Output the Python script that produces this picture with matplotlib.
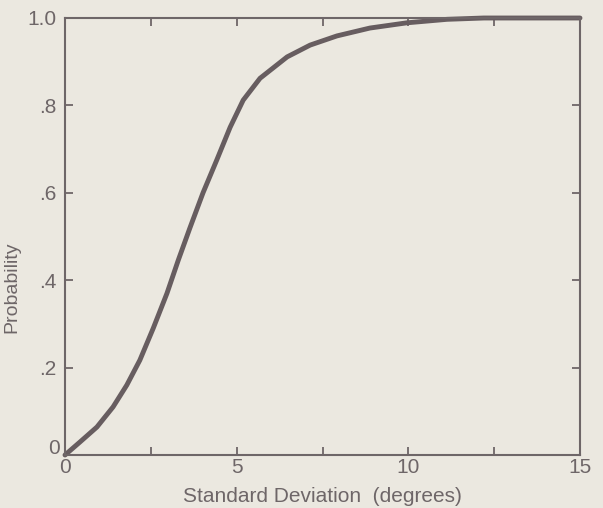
import numpy as np
import matplotlib
matplotlib.use('Agg')
import matplotlib.pyplot as plt
from matplotlib.transforms import ScaledTranslation

# values
sd = [0, 0.44, 0.93, 1.4, 1.8, 2.18, 2.57, 2.97, 3.3, 3.64, 4.02, 4.42, 4.81,
      5.19, 5.68, 6.47, 7.14, 7.92, 8.88, 9.96, 11.13, 12.2, 13.5, 15.0]
prob = [0, 0.03, 0.064, 0.11, 0.16, 0.217, 0.29, 0.37, 0.446, 0.52, 0.60,
        0.675, 0.75, 0.812, 0.862, 0.911, 0.938, 0.959, 0.977, 0.989, 0.997,
        1.0, 1.0, 1.0]

xticks = [0, 2.5, 5, 7.5, 10, 12.5, 15]
xlabels = ['0', '', '5', '', '10', '', '15']
yticks = [0, 0.2, 0.4, 0.6, 0.8, 1.0]
ylabels = ['0', '.2', '.4', '.6', '.8', '1.0']

bg = '#ebe8e0'
ink = '#6e6668'
curve = '#675d60'

plt.rcParams['font.family'] = ['Liberation Sans', 'DejaVu Sans']

fig = plt.figure(figsize=(6.03, 5.08), dpi=100, facecolor=bg)
ax = fig.add_axes([65/603, 53/508, 515/603, 437/508], facecolor=bg)

ax.plot(sd, prob, color=curve, lw=3.5, solid_capstyle='round',
        solid_joinstyle='round', clip_on=False)

ax.set_xlim(0, 15)
ax.set_ylim(0, 1.0)
ax.set_xticks(xticks)
ax.set_xticklabels(xlabels)
ax.set_yticks(yticks)
ax.set_yticklabels(ylabels)

for s in ax.spines.values():
    s.set_color(ink)
    s.set_linewidth(1.5)

ax.tick_params(direction='in', length=6, width=1.3, color=ink, labelcolor=ink,
               labelsize=15, top=True, right=True, pad=2)
ax.tick_params(axis='y', pad=6)

# the 0 on the y axis sits a little above its tick
lab0 = ax.get_yticklabels()[0]
lab0.set_transform(lab0.get_transform() + ScaledTranslation(2/72, 6/72, fig.dpi_scale_trans))

ax.set_xlabel('Standard Deviation  (degrees)', color=ink, fontsize=15)
ax.xaxis.set_label_coords(0.5, -0.074)
ax.set_ylabel('Probability', color=ink, fontsize=14)
ax.yaxis.set_label_coords(-0.087, 0.384)

fig.savefig('out.png', dpi=100, facecolor=bg)
